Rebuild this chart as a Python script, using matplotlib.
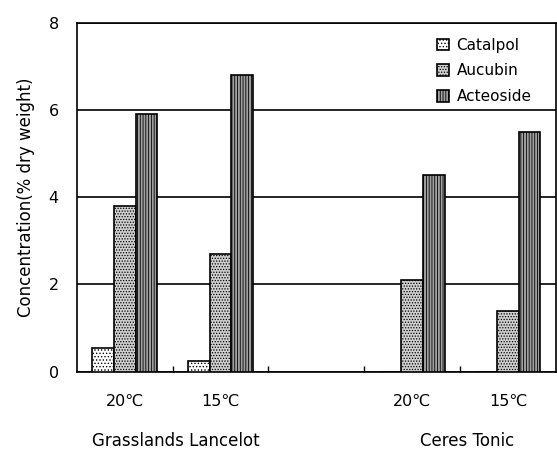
import numpy as np
import matplotlib
matplotlib.use('Agg')
from matplotlib import pyplot as plt

plt.rcParams['font.family'] = ['DejaVu Sans', 'Noto Sans CJK SC']
plt.rcParams['hatch.linewidth'] = 0.6

# data
slots = [0, 1, 3, 4]          # slot 2 is the empty gap between cultivars
temps = ['20℃', '15℃', '20℃', '15℃']
cultivars = ['Grasslands Lancelot', 'Ceres Tonic']
cultivar_pos = [0.53, 3.57]
series = ['Catalpol', 'Aucubin', 'Acteoside']
catalpol = [0.55, 0.25, 0, 0]
aucubin = [3.8, 2.7, 2.1, 1.4]
acteoside = [5.9, 6.8, 4.5, 5.5]

fig = plt.figure(figsize=(5.57, 4.51), dpi=100)
ax = fig.add_axes([0.138, 0.176, 0.860, 0.774])

x = np.array(slots, dtype=float)
w = 0.225
styles = [('white', '.....'), ('#cfcfcf', '......'), ('#a0a0a0', '||||||')]
for i, (vals, name) in enumerate(zip([catalpol, aucubin, acteoside], series)):
    fc, h = styles[i]
    ax.bar(x + (i - 1) * 0.225, vals, w, color=fc, hatch=h,
           edgecolor='black', linewidth=1.2, label=name, zorder=3)

ax.set_xlim(-0.5, 4.5)
ax.set_ylim(0, 8)
ax.set_yticks([0, 2, 4, 6, 8])
ax.yaxis.grid(True, color='black', linewidth=1.2, zorder=0)
ax.set_axisbelow(True)
for s in ax.spines.values():
    s.set_linewidth(1.2)

ax.set_xticks(slots)
ax.set_xticklabels(temps, fontsize=11.5)
ax.set_xticks([0.5, 1.5, 2.5, 3.5], minor=True)
ax.tick_params(axis='x', which='major', length=0, pad=16)
ax.tick_params(axis='x', which='minor', direction='in', length=4, width=1)
ax.tick_params(axis='y', length=0, pad=13, labelsize=11.5)

for name, p in zip(cultivars, cultivar_pos):
    ax.text(p, -1.58, name, ha='center', va='center', fontsize=12)

ax.set_ylabel('Concentration(% dry weight)', fontsize=12, labelpad=10)

leg = ax.legend(loc='upper right', frameon=True, fontsize=11, handlelength=0.8,
                handleheight=0.8, handletextpad=0.5, labelspacing=0.7,
                borderpad=0.2, borderaxespad=0.15, bbox_to_anchor=(0.96, 0.972))
leg.get_frame().set_edgecolor('white')
leg.get_frame().set_facecolor('white')
leg.get_frame().set_alpha(1)

fig.savefig('out.png', dpi=100)
